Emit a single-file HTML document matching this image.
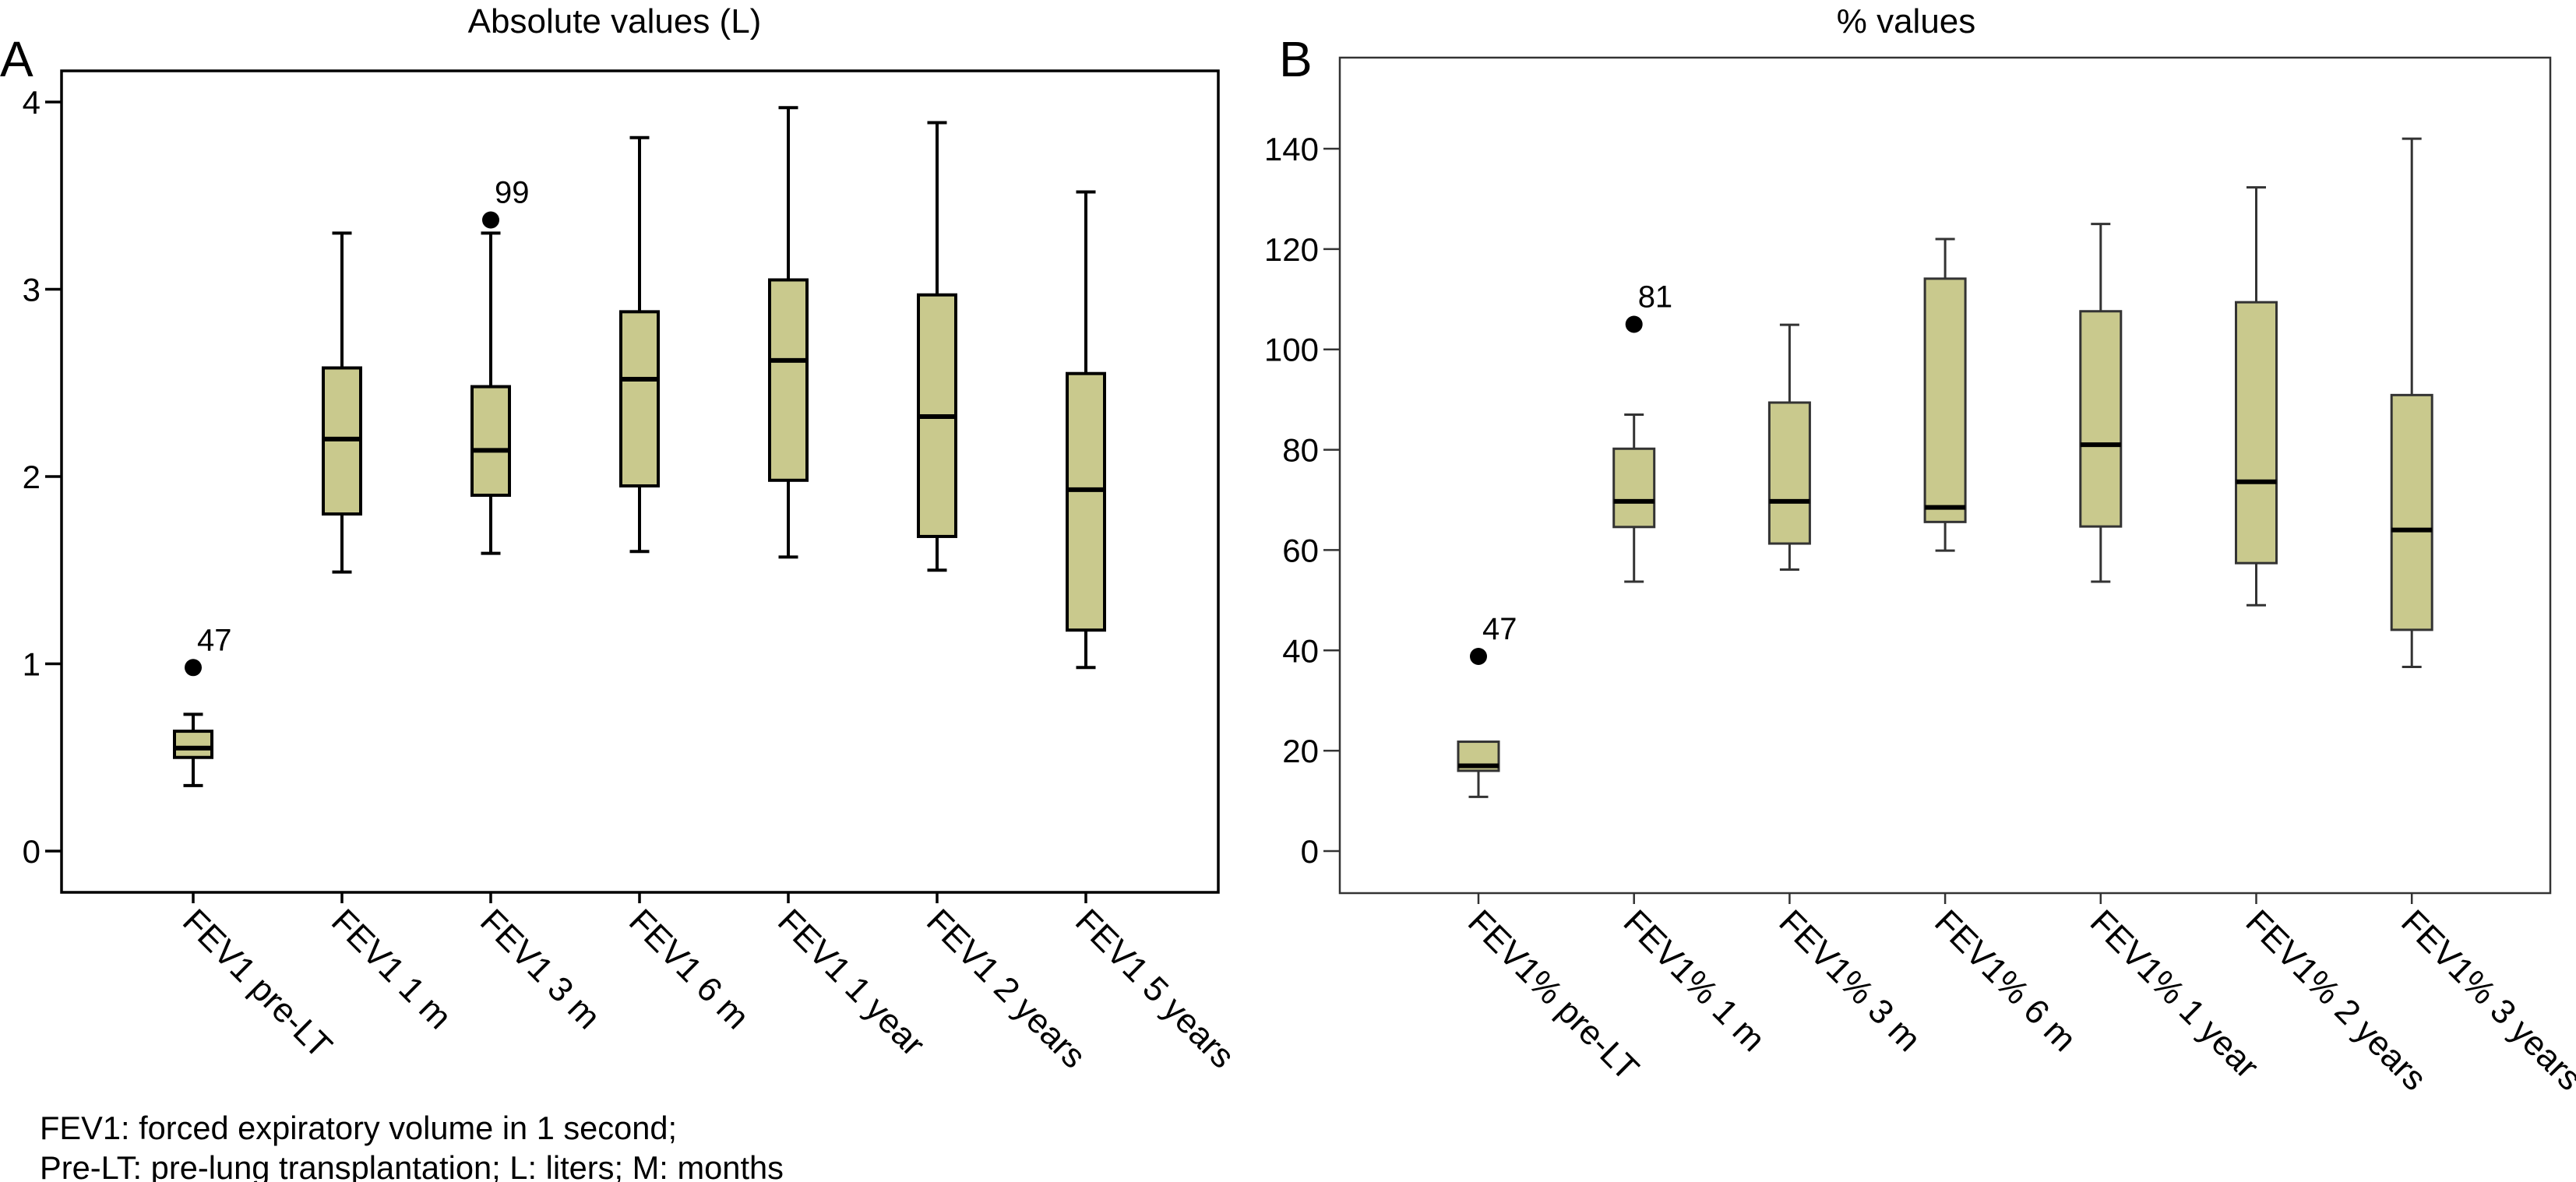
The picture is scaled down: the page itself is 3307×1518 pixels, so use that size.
<!DOCTYPE html>
<html><head><meta charset="utf-8"><style>
html,body{margin:0;padding:0;background:#fff;}
svg{display:block;font-family:"Liberation Sans",sans-serif;}
</style></head><body>
<svg id="fig" width="3307" height="1518" viewBox="0 0 3307 1518" xmlns="http://www.w3.org/2000/svg">
<g id="pa"></g>
<g id="pb"></g>
<text x="51" y="1463" font-size="42" textLength="818" lengthAdjust="spacingAndGlyphs">FEV1: forced expiratory volume in 1 second;</text>
<text x="51" y="1514" font-size="42" textLength="955" lengthAdjust="spacingAndGlyphs">Pre-LT: pre-lung transplantation; L: liters; M: months</text>
</svg>
<script>
// Panel A data
const catsA = ["FEV1 pre-LT","FEV1 1 m","FEV1 3 m","FEV1 6 m","FEV1 1 year","FEV1 2 years","FEV1 5 years"];
const lowA  = [0.35,1.49,1.59,1.60,1.57,1.50,0.98];
const q1A   = [0.50,1.80,1.90,1.95,1.98,1.68,1.18];
const medA  = [0.55,2.20,2.14,2.52,2.62,2.32,1.93];
const q3A   = [0.64,2.58,2.48,2.88,3.05,2.97,2.55];
const highA = [0.73,3.30,3.30,3.81,3.97,3.89,3.52];
const outA  = [[0,0.98,"47"],[2,3.37,"99"]];
const ticksA = [0,1,2,3,4];
// Panel B data
const catsB = ["FEV1% pre-LT","FEV1% 1 m","FEV1% 3 m","FEV1% 6 m","FEV1% 1 year","FEV1% 2 years","FEV1% 3 years"];
const lowB  = [10.8,53.7,56.1,59.9,53.7,49.0,36.7];
const q1B   = [16.0,64.6,61.3,65.6,64.7,57.4,44.1];
const medB  = [17.0,69.7,69.7,68.5,81.0,73.6,64.0];
const q3B   = [21.8,80.2,89.4,114.1,107.6,109.4,90.9];
const highB = [21.8,87.0,104.9,122.0,125.0,132.3,142.0];
const outB  = [[0,38.8,"47"],[1,105,"81"]];
const ticksB = [0,20,40,60,80,100,120,140];

const NS="http://www.w3.org/2000/svg";
function mk(parent,tag,attrs,text){const e=document.createElementNS(NS,tag);for(const k in attrs)e.setAttribute(k,attrs[k]);if(text!==undefined)e.textContent=text;parent.appendChild(e);return e;}

function panel(g,cfg){
  const y=v=>cfg.y0+(v-cfg.vmin)*(cfg.y1-cfg.y0)/(cfg.vmax-cfg.vmin);
  const x=i=>cfg.xs+i*cfg.dx;
  const t=mk(g,"text",{x:cfg.titleX,y:42,"font-size":44,"text-anchor":"middle"},cfg.title);
  
  
  const L=mk(g,"text",{x:cfg.letterX,y:98,"font-size":64},cfg.letter);
  
  
  const fr=mk(g,"rect",{x:cfg.fl,y:cfg.ft,width:cfg.fr-cfg.fl,height:cfg.fb-cfg.ft,fill:"none",stroke:cfg.frameCol,"stroke-width":cfg.fw});
  
  
  cfg.ticks.forEach(v=>{
    const tk=mk(g,"line",{x1:cfg.fl-21,x2:cfg.fl,y1:y(v),y2:y(v),stroke:cfg.frameCol,"stroke-width":cfg.fw});
    
    
    const tl=mk(g,"text",{x:cfg.fl-27,y:y(v)+15,"font-size":42,"text-anchor":"end"},String(v));
    
    
  });
  cfg.cats.forEach((c,i)=>{
    const cx=x(i);
    const tk=mk(g,"line",{x1:cx,x2:cx,y1:cfg.fb,y2:cfg.fb+14,stroke:cfg.frameCol,"stroke-width":cfg.fw});
    
    
    const tl=mk(g,"text",{transform:`translate(${cx-6},${cfg.fb+30}) rotate(45)`,"font-size":44,x:0,y:14},c);
    
    
    const bg=mk(g,"g",{});
    
    
    const w=cfg.bw, cw=25;
    mk(bg,"line",{x1:cx,x2:cx,y1:y(cfg.low[i]),y2:y(cfg.q1[i]),stroke:cfg.boxCol,"stroke-width":cfg.sw});
    mk(bg,"line",{x1:cx,x2:cx,y1:y(cfg.q3[i]),y2:y(cfg.high[i]),stroke:cfg.boxCol,"stroke-width":cfg.sw});
    mk(bg,"line",{x1:cx-cw/2,x2:cx+cw/2,y1:y(cfg.low[i]),y2:y(cfg.low[i]),stroke:cfg.boxCol,"stroke-width":cfg.sw});
    if(cfg.high[i]>cfg.q3[i]) mk(bg,"line",{x1:cx-cw/2,x2:cx+cw/2,y1:y(cfg.high[i]),y2:y(cfg.high[i]),stroke:cfg.boxCol,"stroke-width":cfg.sw});
    mk(bg,"rect",{x:cx-w/2,y:y(cfg.q3[i]),width:w,height:y(cfg.q1[i])-y(cfg.q3[i]),fill:"#c9c98d",stroke:cfg.boxCol,"stroke-width":cfg.sw});
    mk(bg,"line",{x1:cx-w/2,x2:cx+w/2,y1:y(cfg.med[i]),y2:y(cfg.med[i]),stroke:"#000","stroke-width":6});
  });
  cfg.out.forEach(o=>{
    const cx=x(o[0]), cy=y(o[1]);
    const d=mk(g,"circle",{cx:cx,cy:cy,r:11,fill:"#000"});
    
    
    const ol=mk(g,"text",{x:cx+5,y:cy-22,"font-size":40},o[2]);
    
    
  });
}
panel(document.getElementById("pa"),{cats:catsA,low:lowA,q1:q1A,med:medA,q3:q3A,high:highA,out:outA,ticks:ticksA,
  vmin:0,vmax:4,y0:1093,y1:131,xs:248,dx:191,fl:79,fr:1564,ft:91,fb:1146,bw:48,sw:4,fw:3.5,frameCol:"#000",boxCol:"#000",
  title:"Absolute values (L)",titleX:789,letter:"A",letterX:0});
panel(document.getElementById("pb"),{cats:catsB,low:lowB,q1:q1B,med:medB,q3:q3B,high:highB,out:outB,ticks:ticksB,
  vmin:0,vmax:140,y0:1093,y1:191,xs:1898,dx:199.7,fl:1720,fr:3274,ft:74,fb:1147,bw:52,sw:3,fw:2.5,frameCol:"#333",boxCol:"#333",
  title:"% values",titleX:2447,letter:"B",letterX:1642});
</script>
</body></html>
